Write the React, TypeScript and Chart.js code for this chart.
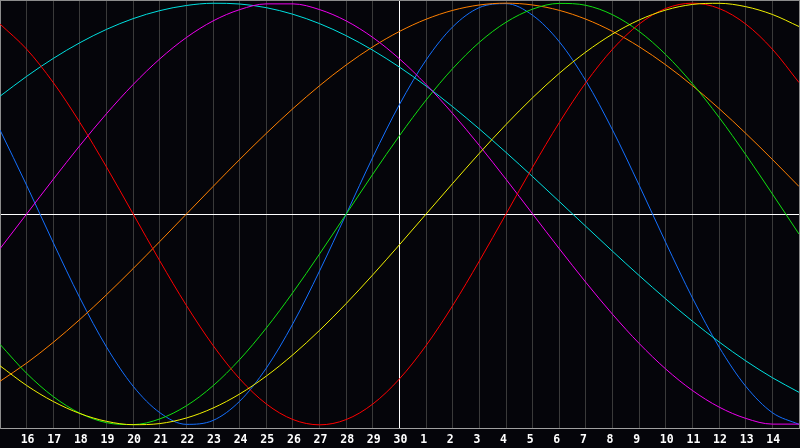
import { useEffect, useRef } from 'react';
import { Chart, registerables } from 'chart.js';

Chart.register(...registerables);

// Day labels for each grid position (index 0 and 30 are the unlabeled edges)
const dayLabels = ['', '16', '17', '18', '19', '20', '21', '22', '23', '24', '25', '26', '27', '28', '29', '30',
  '1', '2', '3', '4', '5', '6', '7', '8', '9', '10', '11', '12', '13', '14', ''];

const todayIndex = 15;

// Cycle values, one per day
const physical = [0.3984, 0.1362, -0.1362, -0.3984, -0.6311, -0.8170, -0.9423, -0.9977, -0.9791, -0.8879, -0.7308,
  -0.5197, -0.2698, 0, 0.2698, 0.5197, 0.7308, 0.8879, 0.9791, 0.9977, 0.9423, 0.8170, 0.6311, 0.3984, 0.1362,
  -0.1362, -0.3984, -0.6311, -0.8170, -0.9423, -0.9977];
const emotional = [0.9010, 0.7818, 0.6235, 0.4339, 0.2225, 0, -0.2225, -0.4339, -0.6235, -0.7818, -0.9010, -0.9749,
  -1, -0.9749, -0.9010, -0.7818, -0.6235, -0.4339, -0.2225, 0, 0.2225, 0.4339, 0.6235, 0.7818, 0.9010, 0.9749, 1,
  0.9749, 0.9010, 0.7818, 0.6235];
const intellectual = [-0.6182, -0.7557, -0.8660, -0.9450, -0.9898, -0.9989, -0.9718, -0.9096, -0.8146, -0.6901,
  -0.5406, -0.3717, -0.1893, 0, 0.1893, 0.3717, 0.5406, 0.6901, 0.8146, 0.9096, 0.9718, 0.9989, 0.9898, 0.9450,
  0.8660, 0.7557, 0.6182, 0.4582, 0.2817, 0.0951, -0.0951];
const intuitive = [-0.1646, 0, 0.1646, 0.3247, 0.4759, 0.6142, 0.7357, 0.8372, 0.9158, 0.9694, 0.9966, 0.9966,
  0.9694, 0.9158, 0.8372, 0.7357, 0.6142, 0.4759, 0.3247, 0.1646, 0, -0.1646, -0.3247, -0.4759, -0.6142, -0.7357,
  -0.8372, -0.9158, -0.9694, -0.9966, -0.9966];
const aesthetic = [-0.7199, -0.8133, -0.8893, -0.9464, -0.9834, -0.9993, -0.9940, -0.9675, -0.9203, -0.8536,
  -0.7686, -0.6673, -0.5518, -0.4245, -0.2881, -0.1456, 0, 0.1456, 0.2881, 0.4245, 0.5518, 0.6673, 0.7686, 0.8536,
  0.9203, 0.9675, 0.9940, 0.9993, 0.9834, 0.9464, 0.8893];
const awareness = [-0.7934, -0.7071, -0.6088, -0.5, -0.3827, -0.2588, -0.1305, 0, 0.1305, 0.2588, 0.3827, 0.5,
  0.6088, 0.7071, 0.7934, 0.8660, 0.9239, 0.9659, 0.9914, 1, 0.9914, 0.9659, 0.9239, 0.8660, 0.7934, 0.7071,
  0.6088, 0.5, 0.3827, 0.2588, 0.1305];
const spiritual = [0.5587, 0.6528, 0.7379, 0.8125, 0.8758, 0.9267, 0.9646, 0.9890, 0.9996, 0.9960, 0.9786, 0.9473,
  0.9028, 0.8457, 0.7765, 0.6965, 0.6068, 0.5086, 0.4031, 0.2920, 0.1769, 0.0592, -0.0592, -0.1769, -0.2920,
  -0.4031, -0.5086, -0.6068, -0.6965, -0.7765, -0.8457];

const yTicks = [-1.015, 0, 1.015];

const seriesList = [
  { label: 'Aesthetic', values: aesthetic, color: '#f0f000' },
  { label: 'Emotional', values: emotional, color: '#ff0000' },
  { label: 'Intuitive', values: intuitive, color: '#f000f0' },
  { label: 'Spiritual', values: spiritual, color: '#00e0e0' },
  { label: 'Intellectual', values: intellectual, color: '#10e010' },
  { label: 'Awareness', values: awareness, color: '#ff8000' },
  { label: 'Physical', values: physical, color: '#1470ff' },
];

const bgPlugin = {
  id: 'bg',
  beforeDraw(chart: any) {
    const ctx = chart.ctx;
    ctx.save();
    ctx.fillStyle = '#05050a';
    ctx.fillRect(0, 0, chart.width, chart.height);
    ctx.restore();
  },
};

export default function App() {
  const ref = useRef<HTMLCanvasElement | null>(null);

  useEffect(() => {
    document.body.style.margin = '0';
    document.body.style.background = '#05050a';
    const canvas = ref.current;
    if (!canvas) return;
    const chart = new Chart(canvas, {
      type: 'line',
      data: {
        datasets: seriesList.map((s) => ({
          label: s.label,
          data: s.values.map((v, i) => ({ x: i, y: v })),
          borderColor: s.color,
          backgroundColor: s.color,
          borderWidth: 1,
          pointRadius: 0,
          fill: false,
          cubicInterpolationMode: 'monotone' as const,
        })),
      },
      options: {
        animation: false,
        responsive: false,
        devicePixelRatio: 1,
        layout: { padding: { left: 0, right: 1, top: 0, bottom: 0 } },
        plugins: { legend: { display: false }, tooltip: { enabled: false } },
        scales: {
          x: {
            type: 'linear',
            min: 0,
            max: dayLabels.length - 1,
            afterFit: (s: any) => {
              s.height = 20;
              s.paddingLeft = 0;
              s.paddingRight = 0;
            },
            ticks: {
              stepSize: 1,
              autoSkip: false,
              maxRotation: 0,
              align: 'start',
              labelOffset: -6,
              padding: 5,
              color: '#ffffff',
              font: { family: 'DejaVu Sans Mono', size: 11.5, weight: 'bold' },
              callback: (v: any) => dayLabels[Number(v)] ?? '',
            },
            grid: {
              drawTicks: false,
              lineWidth: 1,
              color: (ctx: any) => {
                const v = ctx.tick?.value;
                if (v === todayIndex) return '#ffffff';
                if (v === 0 || v === dayLabels.length - 1) return '#8c8c8c';
                return '#3a3a3a';
              },
            },
            border: { color: '#a0a0a0', width: 1 },
          },
          y: {
            min: yTicks[0],
            max: yTicks[yTicks.length - 1],
            afterFit: (s: any) => {
              s.width = 0;
              s.paddingTop = 0;
              s.paddingBottom = 0;
            },
            afterBuildTicks: (s: any) => { s.ticks = yTicks.map((v) => ({ value: v })); },
            ticks: { display: false, padding: 0 },
            grid: {
              drawTicks: false,
              lineWidth: 1,
              color: (ctx: any) => (ctx.tick?.value === 0 ? '#ffffff' : '#8c8c8c'),
            },
            border: { color: '#8c8c8c', width: 1 },
          },
        },
      } as any,
      plugins: [bgPlugin],
    });
    return () => chart.destroy();
  }, []);

  return (
    <div style={{ width: 800, height: 448 }}>
      <canvas ref={ref} width={800} height={448} style={{ display: 'block' }} />
    </div>
  );
}
